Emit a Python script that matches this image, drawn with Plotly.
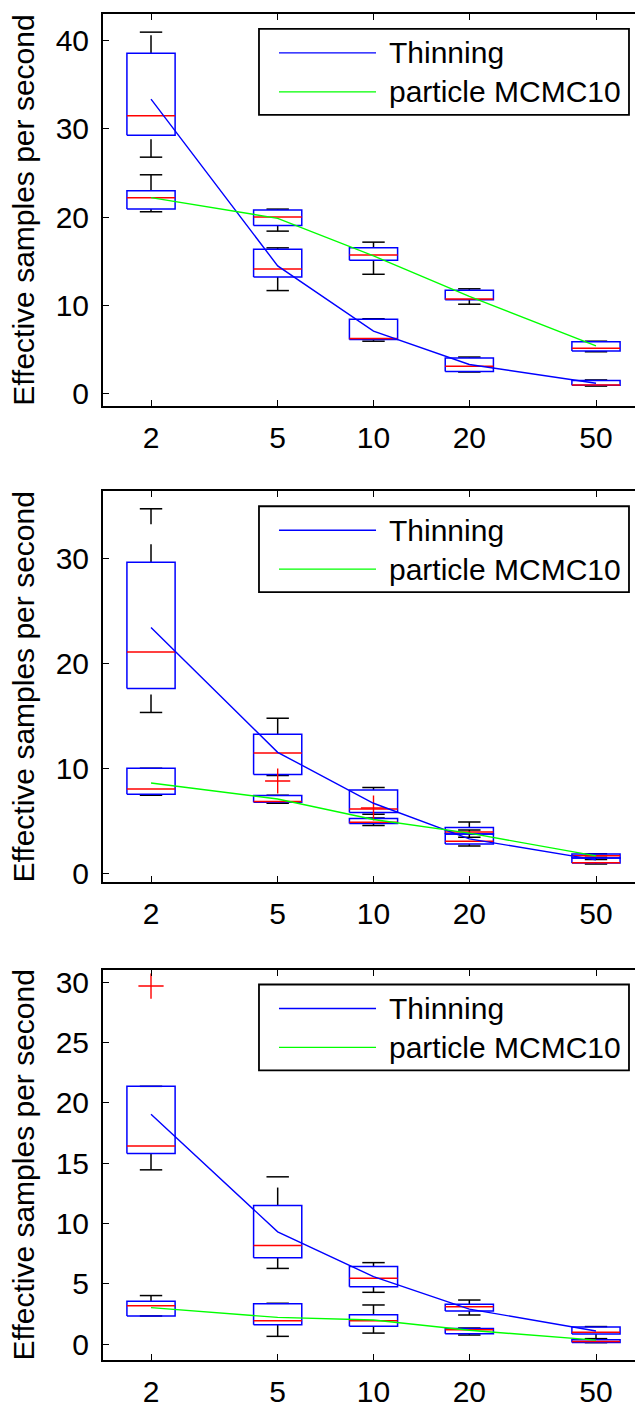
import numpy as np
import plotly.graph_objects as go

# ---------------------------------------------------------------- data
resampling = [2, 5, 10, 20, 50]
tick_text = ["2", "5", "10", "20", "50"]

# box statistics per resampling value: [lower whisker, Q1, median, Q3, upper whisker]
thinning_box_1 = [
    [26.8, 29.3, 31.5, 38.6, 41.0],
    [11.65, 13.2, 14.1, 16.35, 16.5],
    [5.9, 6.1, 6.2, 8.4, 8.45],
    [2.4, 2.45, 3.06, 4.0, 4.1],
    [0.8, 0.9, 0.93, 1.43, 1.5],
]
particle_box_1 = [
    [20.6, 20.9, 22.2, 23.0, 24.8],
    [18.4, 19.05, 20.0, 20.8, 20.9],
    [13.5, 15.1, 15.7, 16.5, 17.15],
    [10.1, 10.6, 10.7, 11.7, 11.85],
    [4.7, 4.8, 5.1, 5.85, 5.9],
]
thinning_mean_1 = [33.4, 14.45, 7.05, 3.25, 1.13]
particle_mean_1 = [22.2, 19.85, 15.6, 11.0, 5.36]

thinning_box_2 = [
    [15.3, 17.58, 21.05, 29.62, 34.7],
    [9.3, 9.38, 11.45, 13.22, 14.75],
    [5.6, 5.77, 6.1, 7.92, 8.14],
    [2.59, 2.78, 3.04, 3.71, 4.11],
    [0.86, 0.95, 0.98, 1.43, 1.5],
]
particle_box_2 = [
    [7.42, 7.51, 8.01, 9.98, 9.98],
    [6.65, 6.75, 6.81, 7.38, 7.42],
    [4.53, 4.72, 4.85, 5.2, 5.25],
    [3.42, 3.72, 3.92, 4.34, 4.87],
    [1.3, 1.43, 1.64, 1.81, 1.85],
]
thinning_mean_2 = [23.4, 11.5, 6.65, 3.26, 1.26]
particle_mean_2 = [8.58, 7.05, 5.1, 3.8, 1.64]
outlier_x_2 = [5, 10]
outlier_y_2 = [8.77, 6.2]

thinning_box_3 = [
    [14.44, 15.79, 16.42, 21.36, 21.36],
    [6.27, 7.15, 8.17, 11.48, 13.86],
    [4.29, 4.76, 5.45, 6.42, 6.75],
    [2.41, 2.74, 3.1, 3.3, 3.65],
    [0.45, 0.83, 0.97, 1.41, 1.45],
]
particle_box_3 = [
    [2.33, 2.33, 3.18, 3.54, 4.02],
    [0.64, 1.6, 1.94, 3.35, 3.38],
    [0.91, 1.47, 1.94, 2.44, 3.24],
    [0.75, 0.86, 1.19, 1.3, 1.33],
    [0.12, 0.14, 0.22, 0.36, 0.4],
]
thinning_mean_3 = [19.04, 9.3, 5.59, 2.9, 1.08]
particle_mean_3 = [3.02, 2.21, 1.99, 1.14, 0.33]
outlier_x_3 = [2]
outlier_y_3 = [29.67]

series_names = ["Thinning", "particle MCMC10"]

# ---------------------------------------------------------------- style
FONT = "Liberation Sans, Arial, Helvetica, sans-serif"
BLUE = "#0000ff"
GREEN = "#00ff00"
RED = "#ff0000"
BOX_HALF = 10 ** 0.0757   # multiplicative half width of a box on the log x axis
CAP_HALF = 10 ** 0.0352   # half width of the whisker caps
LW_BOX = 1.5
LW_MEAN = 1.4

panels = [
    dict(thin=thinning_box_1, part=particle_box_1,
         thin_mean=thinning_mean_1, part_mean=particle_mean_1,
         out_x=[], out_y=[], yrange=[-1.47, 43.06], dtick=10,
         domain=[0.7087, 1.0]),
    dict(thin=thinning_box_2, part=particle_box_2,
         thin_mean=thinning_mean_2, part_mean=particle_mean_2,
         out_x=outlier_x_2, out_y=outlier_y_2, yrange=[-0.88, 36.37], dtick=10,
         domain=[0.3549, 0.6454]),
    dict(thin=thinning_box_3, part=particle_box_3,
         thin_mean=thinning_mean_3, part_mean=particle_mean_3,
         out_x=outlier_x_3, out_y=outlier_y_3, yrange=[-1.32, 31.04], dtick=5,
         domain=[0.0, 0.2901]),
]


def box_paths(stats):
    """Build the path coordinates of a MATLAB-style boxplot group."""
    wx, wy, cx, cy, bx, by, mx, my = [], [], [], [], [], [], [], []
    for x, (lo, q1, med, q3, hi) in zip(resampling, stats):
        # upper whisker runs from the box upwards, lower one from its end up to the box
        wx += [x, x, None, x, x, None]
        wy += [q3, hi, None, lo, q1, None]
        cx += [x / CAP_HALF, x * CAP_HALF, None, x / CAP_HALF, x * CAP_HALF, None]
        cy += [hi, hi, None, lo, lo, None]
        x0, x1 = x / BOX_HALF, x * BOX_HALF
        bx += [x0, x1, x1, x0, x0, None]
        by += [q1, q1, q3, q3, q1, None]
        mx += [x0, x1, None]
        my += [med, med, None]
    return (wx, wy), (cx, cy), (bx, by), (mx, my)


fig = go.Figure()
layout = dict(
    width=635, height=1408,
    margin=dict(l=103, r=0, t=14, b=45),
    paper_bgcolor="white", plot_bgcolor="white",
    showlegend=False,
    font=dict(family=FONT, size=30, color="black"),
    shapes=[], annotations=[],
)

for i, p in enumerate(panels):
    s = "" if i == 0 else str(i + 1)
    xa, ya = "x" + s, "y" + s
    for key in ("thin", "part"):
        (wx, wy), (cx, cy), (bx, by), (mx, my) = box_paths(p[key])
        fig.add_trace(go.Scatter(x=wx, y=wy, xaxis=xa, yaxis=ya, mode="lines",
                                 line=dict(color="black", width=LW_BOX, dash="18px,20px"),
                                 hoverinfo="skip"))
        fig.add_trace(go.Scatter(x=cx, y=cy, xaxis=xa, yaxis=ya, mode="lines",
                                 line=dict(color="black", width=LW_BOX), hoverinfo="skip"))
        fig.add_trace(go.Scatter(x=bx, y=by, xaxis=xa, yaxis=ya, mode="lines",
                                 line=dict(color=BLUE, width=LW_BOX), hoverinfo="skip"))
        fig.add_trace(go.Scatter(x=mx, y=my, xaxis=xa, yaxis=ya, mode="lines",
                                 line=dict(color=RED, width=LW_BOX), hoverinfo="skip"))
    if p["out_x"]:
        fig.add_trace(go.Scatter(x=p["out_x"], y=p["out_y"], xaxis=xa, yaxis=ya,
                                 mode="markers",
                                 marker=dict(symbol="cross-thin", size=18,
                                             line=dict(color=RED, width=1.4)),
                                 hoverinfo="skip"))
    fig.add_trace(go.Scatter(x=resampling, y=p["thin_mean"], xaxis=xa, yaxis=ya,
                             mode="lines", name=series_names[0],
                             line=dict(color=BLUE, width=LW_MEAN)))
    fig.add_trace(go.Scatter(x=resampling, y=p["part_mean"], xaxis=xa, yaxis=ya,
                             mode="lines", name=series_names[1],
                             line=dict(color=GREEN, width=LW_MEAN)))

    layout["xaxis" + s] = dict(
        type="log", range=[0.1502, 1.8215], domain=[0, 1], anchor=ya,
        tickvals=resampling, ticktext=tick_text,
        ticks="inside", ticklen=6, tickwidth=1, tickcolor="black",
        showline=True, linecolor="black", linewidth=2, mirror="ticks",
        showgrid=False, zeroline=False,
        tickfont=dict(family=FONT, size=30, color="black"),
        ticklabelstandoff=4,
    )
    layout["yaxis" + s] = dict(
        range=p["yrange"], domain=p["domain"], anchor=xa,
        dtick=p["dtick"], tick0=0,
        ticks="inside", ticklen=6, tickwidth=1, tickcolor="black",
        showline=True, linecolor="black", linewidth=2, mirror=False,
        showgrid=False, zeroline=False,
        tickfont=dict(family=FONT, size=30, color="black"),
        ticklabelstandoff=6,
        title=dict(text="Effective samples per second",
                   font=dict(family=FONT, size=30, color="black"), standoff=12),
    )

    # legend box drawn inside each panel
    xd, yd = xa + " domain", ya + " domain"
    h = p["domain"][1] - p["domain"][0]
    ph = h * 1349.0
    top = 1 - 15.0 / ph
    bot = 1 - 101.0 / ph
    layout["shapes"].append(dict(type="rect", xref=xd, yref=yd,
                                 x0=0.2932, x1=0.9887, y0=bot, y1=top,
                                 line=dict(color="black", width=1.8),
                                 fillcolor="white", layer="above"))
    for k, (name, col) in enumerate(zip(series_names, [BLUE, GREEN])):
        yy = 1 - (15.0 + 24.0 + 39.0 * k) / ph
        layout["shapes"].append(dict(type="line", xref=xd, yref=yd,
                                     x0=0.3308, x1=0.5132, y0=yy, y1=yy,
                                     line=dict(color=col, width=LW_MEAN), layer="above"))
        layout["annotations"].append(dict(xref=xd, yref=yd, x=0.5338, y=yy,
                                          text=name, showarrow=False,
                                          xanchor="left", yanchor="middle",
                                          font=dict(family=FONT, size=30, color="black")))

fig.update_layout(**layout)
fig.write_html("out.html")
